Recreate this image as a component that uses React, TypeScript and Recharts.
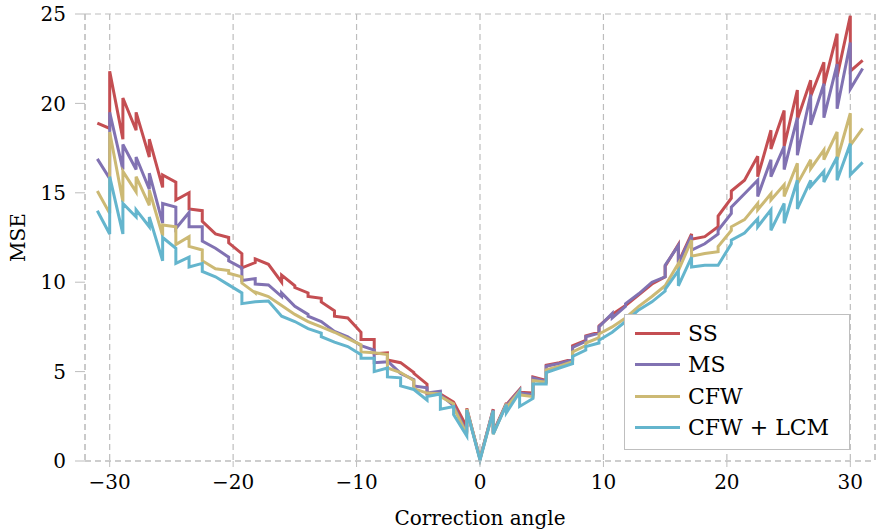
import { LineChart, Line, XAxis, YAxis, CartesianGrid, Legend } from 'recharts';

/** MSE against correction angle for four methods; each angle holds an (arriving, leaving) pair. */

const ANGLES = [
  -31, -30, -28.93, -27.86, -26.79, -25.71, -24.64, -23.57, -22.5, -21.43, -20.36, -19.29, -18.21, -17.14, -16.07,
  -15, -13.93, -12.86, -11.79, -10.71, -9.64, -8.57, -7.5, -6.43, -5.36, -4.29, -3.21, -2.14, -1.07, 0, 1.07, 2.14,
  3.21, 4.29, 5.36, 6.43, 7.5, 8.57, 9.64, 10.71, 11.79, 12.86, 13.93, 15, 16.07, 17.14, 18.21, 19.29, 20.36, 21.43,
  22.5, 23.57, 24.64, 25.71, 26.79, 27.86, 28.93, 30, 31,
];

const SS = [
  [18.9, 18.9], [18.6, 21.8], [18.0, 20.3], [18.5, 19.5], [17.0, 18.0], [15.3, 16.0], [15.6, 14.6], [15.0, 14.1],
  [14.0, 13.4], [12.7, 12.7], [12.5, 12.2], [11.6, 10.8], [11.1, 11.3], [11.0, 11.0], [10.0, 10.4], [9.8, 9.7],
  [9.4, 9.2], [9.1, 8.9], [8.4, 8.1], [8.0, 8.0], [7.2, 6.8], [6.8, 6.0], [6.05, 5.65], [5.5, 5.5], [4.95, 4.9],
  [4.3, 3.75], [3.8, 3.75], [3.3, 3.3], [1.9, 2.95], [0.1, 0.1], [2.9, 1.6], [3.25, 3.15], [4.0, 3.85], [3.8, 4.7],
  [4.5, 5.35], [5.5, 5.5], [5.7, 6.45], [6.75, 7.0], [7.2, 7.55], [8.2, 8.2], [8.7, 8.7], [9.3, 9.3], [9.9, 9.9],
  [10.3, 10.9], [12.1, 11.1], [12.7, 12.4], [12.55, 12.55], [13.1, 13.7], [14.7, 15.1], [15.7, 15.7], [17.05, 15.9],
  [18.5, 17.45], [19.6, 17.6], [20.75, 19.1], [21.3, 20.4], [22.3, 21.0], [23.9, 21.5], [24.9, 21.8], [22.4, 22.4],
];

const MS = [
  [16.9, 16.9], [15.8, 19.5], [16.3, 17.7], [16.3, 17.0], [15.2, 16.1], [13.3, 14.4], [14.2, 13.0], [13.9, 13.1],
  [13.1, 12.3], [11.9, 11.9], [11.4, 11.2], [10.8, 10.1], [10.2, 9.9], [9.85, 9.85], [9.2, 9.4], [8.65, 8.65],
  [8.2, 8.1], [7.8, 7.8], [7.25, 7.25], [6.95, 6.95], [6.45, 6.45], [6.2, 5.5], [5.55, 5.6], [4.9, 4.9], [4.55, 4.2],
  [4.1, 3.8], [3.9, 3.7], [3.1, 3.1], [1.6, 2.85], [0.15, 0.15], [2.85, 1.55], [3.2, 3.1], [3.95, 3.8], [3.7, 4.65],
  [4.45, 5.3], [5.45, 5.45], [5.65, 6.35], [6.7, 6.95], [7.15, 7.5], [8.25, 8.0], [8.65, 8.8], [9.35, 9.35],
  [10.0, 10.0], [10.3, 10.95], [12.05, 11.05], [12.6, 11.8], [12.15, 12.15], [12.7, 12.9], [13.85, 14.2],
  [14.95, 14.95], [15.7, 14.8], [16.85, 15.9], [17.6, 16.3], [19.2, 17.1], [20.5, 18.8], [21.1, 19.2], [22.2, 19.7],
  [23.4, 20.8], [21.95, 21.95],
];

const CFW = [
  [15.1, 15.1], [13.85, 18.4], [14.5, 16.2], [15.05, 15.9], [14.3, 15.15], [12.6, 13.2], [13.1, 12.1], [12.55, 12.0],
  [11.8, 11.2], [10.75, 10.75], [10.65, 10.5], [10.3, 9.95], [9.4, 9.45], [9.2, 9.2], [8.7, 8.7], [8.2, 8.2],
  [7.8, 7.8], [7.5, 7.5], [7.2, 7.2], [6.85, 6.85], [6.5, 6.1], [6.05, 6.05], [5.95, 5.2], [4.95, 4.95], [4.5, 4.05],
  [3.8, 3.8], [3.75, 3.6], [3.2, 3.0], [1.5, 2.9], [0.1, 0.1], [2.8, 1.5], [3.2, 3.0], [3.9, 3.7], [3.6, 4.5],
  [4.4, 5.1], [5.3, 5.3], [5.55, 6.1], [6.45, 6.6], [6.9, 7.1], [7.5, 7.5], [8.0, 8.0], [8.65, 8.65], [9.2, 9.2],
  [9.8, 9.8], [11.05, 10.65], [12.35, 11.45], [11.6, 11.6], [11.7, 12.0], [12.9, 13.1], [13.5, 13.5], [14.4, 14.05],
  [14.95, 14.6], [15.45, 14.8], [16.65, 15.5], [16.85, 16.35], [17.4, 16.85], [18.4, 16.85], [19.45, 17.65],
  [18.6, 18.6],
];

const LCM = [
  [14.0, 14.0], [12.7, 15.9], [12.7, 14.4], [13.65, 14.05], [13.1, 13.65], [11.2, 12.5], [11.9, 11.05], [11.4, 10.85],
  [11.05, 10.6], [10.3, 10.3], [9.85, 9.85], [9.4, 8.8], [8.9, 8.9], [8.95, 8.95], [8.1, 8.1], [7.8, 7.8], [7.4, 7.4],
  [7.15, 6.95], [6.65, 6.65], [6.4, 6.4], [5.95, 5.75], [5.75, 5.0], [5.2, 4.7], [4.65, 4.2], [4.0, 4.0], [3.4, 3.6],
  [3.75, 2.9], [3.05, 2.6], [1.4, 2.85], [0.05, 0.05], [2.8, 1.5], [3.15, 2.7], [3.85, 3.05], [3.5, 4.3], [4.3, 4.95],
  [5.2, 5.2], [5.45, 5.85], [6.2, 6.4], [6.6, 6.75], [7.2, 7.2], [7.8, 7.8], [8.45, 8.45], [8.9, 8.9], [9.5, 9.6],
  [10.65, 9.8], [11.4, 10.85], [10.95, 10.95], [10.95, 10.95], [12.15, 12.35], [12.75, 12.75], [13.55, 13.1],
  [14.05, 12.9], [14.4, 13.3], [15.7, 14.1], [15.7, 15.35], [16.2, 15.6], [17.0, 15.7], [17.75, 16.0], [16.7, 16.7],
];

const X_TICKS = [-30, -20, -10, 0, 10, 20, 30];
const Y_TICKS = [0, 5, 10, 15, 20, 25];

const SERIES = [
  { key: 'ss', name: 'SS', color: '#c44e52' },
  { key: 'ms', name: 'MS', color: '#8172b2' },
  { key: 'cfw', name: 'CFW', color: '#ccb974' },
  { key: 'lcm', name: 'CFW + LCM', color: '#64b5cd' },
];

const data = ANGLES.flatMap((angle, i) =>
  [0, 1].map((j) => ({ angle, ss: SS[i][j], ms: MS[i][j], cfw: CFW[i][j], lcm: LCM[i][j] })),
);

const FONT = '"DejaVu Serif", serif';
const FONT_SIZE = 20;
const GRID = '#bdbdbd';
const tickStyle = { fill: '#000', fontSize: FONT_SIZE, fontFamily: FONT };
const fmt = (v: number) => (v < 0 ? `\u2212${-v}` : `${v}`);

function LegendBox() {
  return (
    <div
      style={{
        width: 224,
        height: 131,
        background: '#fff',
        border: '1.5px solid #bfbfbf',
        boxSizing: 'content-box',
        fontFamily: FONT,
        fontSize: 22,
        paddingTop: 3,
      }}
    >
      {SERIES.map((s) => (
        <div key={s.key} style={{ display: 'flex', alignItems: 'center', height: 31.3 }}>
          <div style={{ width: 45, height: 3, background: s.color, marginLeft: 10, marginRight: 8 }} />
          <span style={{ color: '#000' }}>{s.name}</span>
        </div>
      ))}
    </div>
  );
}

export default function App() {
  return (
    <div style={{ position: 'relative', width: 886, height: 532 }}>
      <style>{'body{margin:0}'}</style>
      <LineChart width={886} height={532} data={data} margin={{ top: 14, right: 0, bottom: 0, left: 0 }}>
        <CartesianGrid stroke={GRID} strokeDasharray="6 4" strokeWidth={1.2} />
        <XAxis
          type="number"
          dataKey="angle"
          domain={[-32, 32]}
          ticks={X_TICKS}
          tickFormatter={fmt}
          allowDataOverflow
          height={71}
          tickSize={6}
          tickMargin={8}
          tick={tickStyle}
          tickLine={{ stroke: GRID }}
          axisLine={{ stroke: GRID, strokeDasharray: '6 4' }}
          label={{ value: 'Correction angle', position: 'insideBottom', offset: 7, fill: '#000', fontSize: FONT_SIZE, fontFamily: FONT }}
        />
        <YAxis
          yAxisId="left"
          domain={[0, 25]}
          ticks={Y_TICKS}
          width={85}
          tickSize={10}
          tickMargin={9}
          tick={tickStyle}
          tickLine={{ stroke: GRID }}
          axisLine={{ stroke: GRID, strokeDasharray: '6 4' }}
          label={{
            content: ({ viewBox }: any) => (
              <text
                x={viewBox.x + 18}
                y={viewBox.y + viewBox.height / 2}
                transform={`rotate(-90 ${viewBox.x + 18} ${viewBox.y + viewBox.height / 2})`}
                textAnchor="middle"
                dominantBaseline="central"
                fill="#000"
                fontSize={FONT_SIZE}
                fontFamily={FONT}
              >
                MSE
              </text>
            ),
          }}
        />
        <YAxis
          yAxisId="right"
          orientation="right"
          domain={[0, 25]}
          ticks={Y_TICKS}
          width={11}
          tickSize={10}
          tickFormatter={() => ''}
          tickLine={{ stroke: GRID }}
          axisLine={{ stroke: GRID, strokeDasharray: '6 4' }}
        />
        {SERIES.map((s) => (
          <Line
            key={s.key}
            yAxisId="left"
            type="linear"
            dataKey={s.key}
            name={s.name}
            stroke={s.color}
            strokeWidth={3}
            dot={false}
            activeDot={false}
            isAnimationActive={false}
          />
        ))}
        <Legend
          layout="vertical"
          align="center"
          verticalAlign="middle"
          content={() => <LegendBox />}
          wrapperStyle={{ left: 624, top: 314, width: 227, height: 134 }}
        />
      </LineChart>
    </div>
  );
}
